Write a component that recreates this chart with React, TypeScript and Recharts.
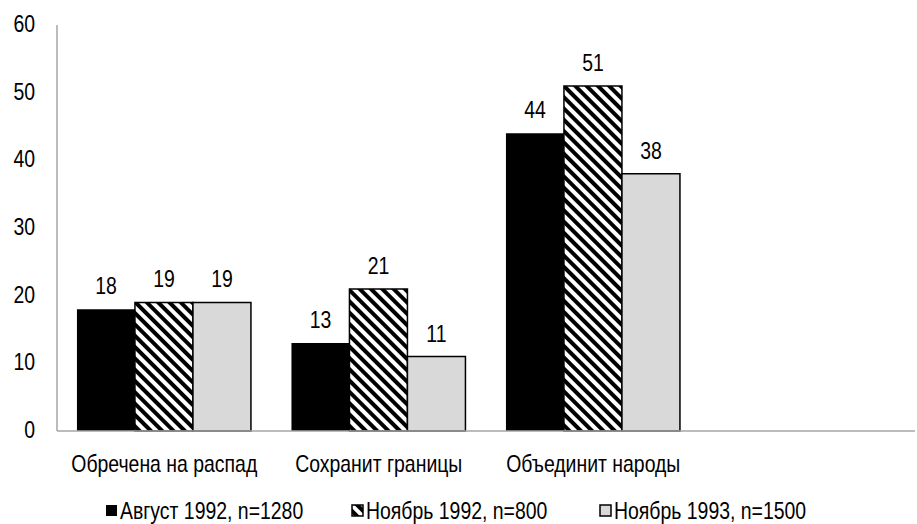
import React from "react";
import { BarChart, Bar, XAxis, YAxis, LabelList } from "recharts";

const categories = ["Обречена на распад", "Сохранит границы", "Объединит народы", ""];
const august1992 = [18, 13, 44, null];
const november1992 = [19, 21, 51, null];
const november1993 = [19, 11, 38, null];
const yTicks = [0, 10, 20, 30, 40, 50, 60];
const seriesNames = ["Август 1992, n=1280", "Ноябрь 1992, n=800", "Ноябрь 1993, n=1500"];

const data = categories.map((c, i) => ({
  name: c,
  a: august1992[i],
  b: november1992[i],
  c: november1993[i],
}));

const FONT = "'Liberation Sans', Arial, sans-serif";
const FS = 23;
const SX = 0.845;

const NText = ({ x, y, anchor = "middle", children }: any) => (
  <text
    transform={`translate(${x},${y}) scale(${SX},1)`}
    x={0}
    y={0}
    textAnchor={anchor}
    fontFamily={FONT}
    fontSize={FS}
    fill="#000"
  >
    {children}
  </text>
);

const legendFills = ["#000000", "url(#hatch)", "#d9d9d9"];
const legendStrokes = ["none", "#000", "#000"];
const legendX = [106, 352, 600];

const LegendSvg = () => (
  <svg width={917} height={40} style={{ position: "absolute", left: 0, top: 490 }}>
    {seriesNames.map((n, i) => (
      <g key={n}>
        <rect
          x={legendX[i]}
          y={15}
          width={11}
          height={11}
          fill={legendFills[i]}
          stroke={legendStrokes[i]}
          strokeWidth={1.5}
        />
        <NText x={legendX[i] + 14} y={29} anchor="start">
          {n}
        </NText>
      </g>
    ))}
  </svg>
);

const XTick = (props: any) => {
  const { x, y, payload } = props;
  return (
    <NText x={x} y={y + 39}>
      {payload.value}
    </NText>
  );
};

const YTick = (props: any) => {
  const { x, y, payload } = props;
  return (
    <NText x={x} y={y + 7} anchor="end">
      {payload.value}
    </NText>
  );
};

const BarLabel = (props: any) => {
  const { x, y, width, value } = props;
  if (value === null || value === undefined) return null;
  return (
    <NText x={x + width / 2} y={y - 15}>
      {value}
    </NText>
  );
};

export default function App() {
  return (
    <div style={{ position: "absolute", left: 0, top: 0, width: 917, height: 524, background: "#fff" }}>
      <svg width={0} height={0} style={{ position: "absolute" }}>
        <defs>
          <pattern
            id="hatch"
            patternUnits="userSpaceOnUse"
            width={8}
            height={8}
            patternTransform="rotate(-45)"
          >
            <rect x={0} y={0} width={8} height={8} fill="#fff" />
            <rect x={0} y={0} width={4} height={8} fill="#000" />
          </pattern>
        </defs>
      </svg>
      <BarChart
        width={917}
        height={524}
        data={data}
        margin={{ top: 25, right: 2, bottom: 0, left: 0 }}
        barCategoryGap="9.3%"
        barGap={0}
      >
        <XAxis
          dataKey="name"
          axisLine={{ stroke: "#a6a6a6", strokeWidth: 1.5 }}
          tickLine={false}
          tickSize={0}
          tick={<XTick />}
          height={93}
          interval={0}
        />
        <YAxis
          domain={[0, 60]}
          ticks={yTicks}
          axisLine={{ stroke: "#a6a6a6", strokeWidth: 1.5 }}
          tickLine={false}
          tickSize={0}
          tickMargin={22}
          tick={<YTick />}
          width={57}
          interval={0}
        />
        <Bar dataKey="a" name={seriesNames[0]} fill="#000" isAnimationActive={false}>
          <LabelList dataKey="a" content={<BarLabel />} />
        </Bar>
        <Bar dataKey="b" name={seriesNames[1]} fill="url(#hatch)" stroke="#000" strokeWidth={1.5} isAnimationActive={false}>
          <LabelList dataKey="b" content={<BarLabel />} />
        </Bar>
        <Bar dataKey="c" name={seriesNames[2]} fill="#d9d9d9" stroke="#000" strokeWidth={1.5} isAnimationActive={false}>
          <LabelList dataKey="c" content={<BarLabel />} />
        </Bar>
      </BarChart>
      <LegendSvg />
    </div>
  );
}
